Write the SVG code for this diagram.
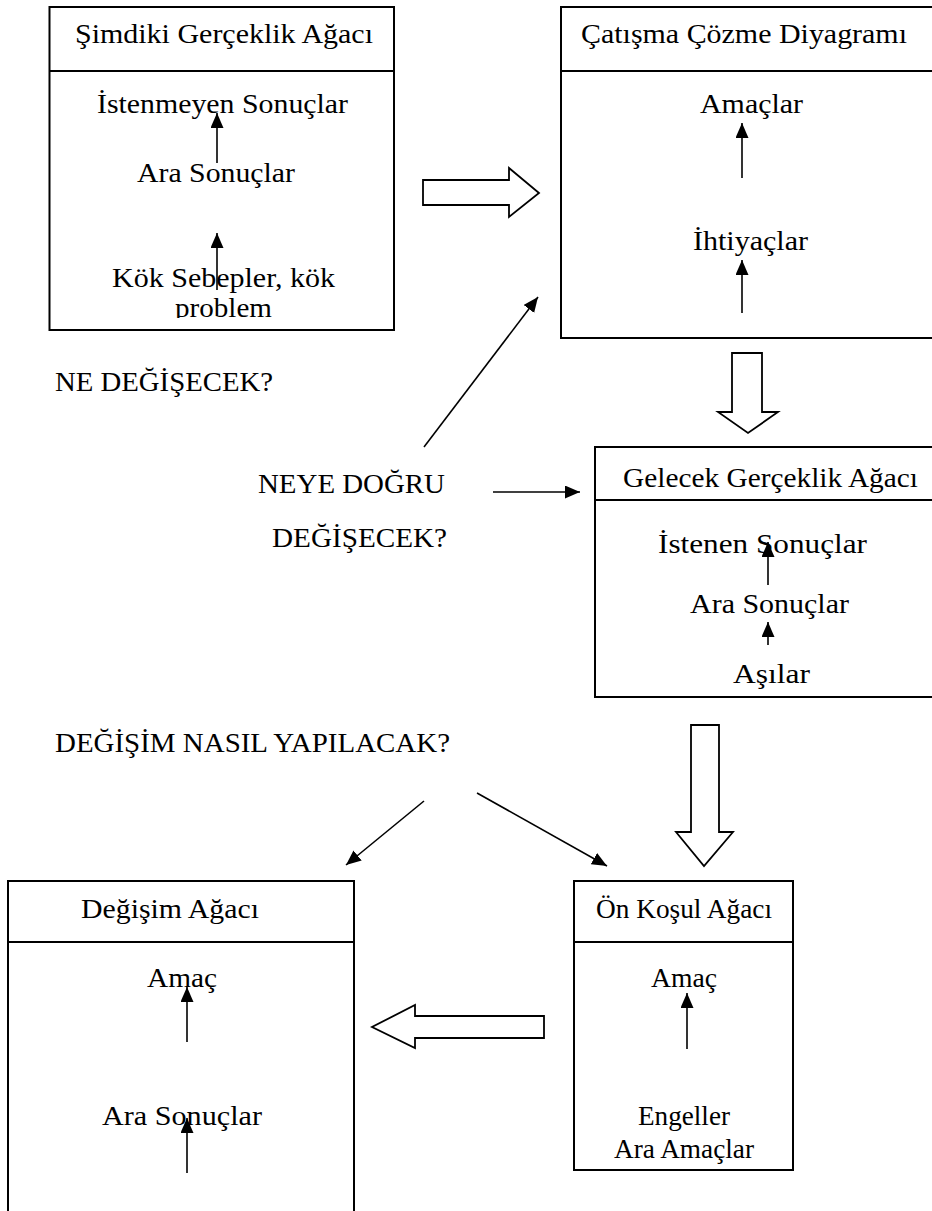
<svg xmlns="http://www.w3.org/2000/svg" width="932" height="1211" viewBox="0 0 932 1211">
  <style>
    text { font-family: "Liberation Serif", "Times New Roman", serif; font-size: 28px; fill: #000; text-anchor: middle; }
    .box { fill: #fff; stroke: #000; stroke-width: 2; }
    .div { stroke: #000; stroke-width: 2; }
    .arr { stroke: #000; stroke-width: 1.6; fill: none; marker-end: url(#head); }
    .big { fill: #fff; stroke: #000; stroke-width: 1.8; stroke-linejoin: miter; }
  </style>
  <defs>
    <marker id="head" markerUnits="userSpaceOnUse" markerWidth="16" markerHeight="14" refX="15" refY="6.5" orient="auto">
      <path d="M0,0 L15,6.5 L0,13 z" fill="#000"/>
    </marker>
    <clipPath id="clip-current">
      <rect x="49" y="71" width="346" height="247"/>
    </clipPath>
  </defs>
  <rect width="932" height="1211" fill="#fff"/>

  <!-- Current Reality Tree -->
  <g id="current-reality-tree">
    <rect class="box" x="49.5" y="7" width="344.5" height="323"/>
    <line class="div" x1="49.5" y1="71" x2="394" y2="71"/>
    <text x="224" y="43" textLength="298" lengthAdjust="spacingAndGlyphs">Şimdiki Gerçeklik Ağacı</text>
    <text x="222.5" y="113" textLength="251" lengthAdjust="spacingAndGlyphs">İstenmeyen Sonuçlar</text>
    <text x="216" y="182" textLength="158" lengthAdjust="spacingAndGlyphs">Ara Sonuçlar</text>
    <g clip-path="url(#clip-current)">
      <text x="223.5" y="287" textLength="223" lengthAdjust="spacingAndGlyphs">Kök Sebepler, kök</text>
      <text x="223.5" y="317" textLength="97" lengthAdjust="spacingAndGlyphs">problem</text>
    </g>
    <line class="arr" x1="217" y1="163" x2="217" y2="113"/>
    <line class="arr" x1="217" y1="290" x2="217" y2="233"/>
  </g>

  <!-- Conflict Resolution Diagram -->
  <g id="conflict-diagram">
    <rect class="box" x="561" y="7" width="380" height="331"/>
    <line class="div" x1="561" y1="71" x2="941" y2="71"/>
    <text x="744" y="43" textLength="326" lengthAdjust="spacingAndGlyphs">Çatışma Çözme Diyagramı</text>
    <text x="751.5" y="113" textLength="103" lengthAdjust="spacingAndGlyphs">Amaçlar</text>
    <text x="750.5" y="250" textLength="115" lengthAdjust="spacingAndGlyphs">İhtiyaçlar</text>
    <line class="arr" x1="742" y1="178" x2="742" y2="123"/>
    <line class="arr" x1="742" y1="313" x2="742" y2="260"/>
  </g>

  <!-- Future Reality Tree -->
  <g id="future-reality-tree">
    <rect class="box" x="595" y="447" width="346" height="250"/>
    <line class="div" x1="595" y1="500" x2="941" y2="500"/>
    <text x="770.5" y="487" textLength="295" lengthAdjust="spacingAndGlyphs">Gelecek Gerçeklik Ağacı</text>
    <text x="762.5" y="553" textLength="209" lengthAdjust="spacingAndGlyphs">İstenen Sonuçlar</text>
    <text x="769.5" y="613" textLength="159" lengthAdjust="spacingAndGlyphs">Ara Sonuçlar</text>
    <text x="771.5" y="683" textLength="77" lengthAdjust="spacingAndGlyphs">Aşılar</text>
    <line class="arr" x1="768" y1="585" x2="768" y2="542"/>
    <line class="arr" x1="768" y1="645" x2="768" y2="622"/>
  </g>

  <!-- Prerequisite Tree -->
  <g id="prerequisite-tree">
    <rect class="box" x="574" y="881" width="219" height="289"/>
    <line class="div" x1="574" y1="942" x2="793" y2="942"/>
    <text x="684" y="918" textLength="176" lengthAdjust="spacingAndGlyphs">Ön Koşul Ağacı</text>
    <text x="684" y="987" textLength="66" lengthAdjust="spacingAndGlyphs">Amaç</text>
    <text x="684" y="1125" textLength="92" lengthAdjust="spacingAndGlyphs">Engeller</text>
    <text x="684" y="1158" textLength="140" lengthAdjust="spacingAndGlyphs">Ara Amaçlar</text>
    <line class="arr" x1="687" y1="1049" x2="687" y2="993"/>
  </g>

  <!-- Transition Tree -->
  <g id="transition-tree">
    <rect class="box" x="8" y="881" width="346" height="340"/>
    <line class="div" x1="8" y1="942" x2="354" y2="942"/>
    <text x="170" y="918" textLength="178" lengthAdjust="spacingAndGlyphs">Değişim Ağacı</text>
    <text x="182" y="987" textLength="70" lengthAdjust="spacingAndGlyphs">Amaç</text>
    <text x="182" y="1125" textLength="160" lengthAdjust="spacingAndGlyphs">Ara Sonuçlar</text>
    <line class="arr" x1="187" y1="1042" x2="187" y2="987"/>
    <line class="arr" x1="187" y1="1173" x2="187" y2="1118"/>
  </g>

  <!-- Question labels -->
  <g id="questions">
    <text x="164" y="391" textLength="218" lengthAdjust="spacingAndGlyphs">NE DEĞİŞECEK?</text>
    <text x="351.5" y="493" textLength="187" lengthAdjust="spacingAndGlyphs">NEYE DOĞRU</text>
    <text x="359.5" y="547" textLength="175" lengthAdjust="spacingAndGlyphs">DEĞİŞECEK?</text>
    <text x="252.5" y="752" textLength="395" lengthAdjust="spacingAndGlyphs">DEĞİŞİM NASIL YAPILACAK?</text>
  </g>

  <!-- Connectors -->
  <g id="connectors">
    <polygon class="big" points="423,180 509,180 509,168 539,193 509,217 509,205 423,205"/>
    <polygon class="big" points="732,353 762,353 762,412 778,412 748,433 718,412 732,412"/>
    <polygon class="big" points="691,725 719,725 719,832 733,832 704,866 676,832 691,832"/>
    <polygon class="big" points="544,1016 415,1016 415,1005 372,1027 415,1048 415,1038 544,1038"/>
    <line class="arr" x1="424" y1="447" x2="538" y2="297"/>
    <line class="arr" x1="493" y1="492" x2="580" y2="492"/>
    <line class="arr" x1="424" y1="801" x2="346" y2="865"/>
    <line class="arr" x1="477" y1="793" x2="607" y2="866"/>
  </g>
</svg>
